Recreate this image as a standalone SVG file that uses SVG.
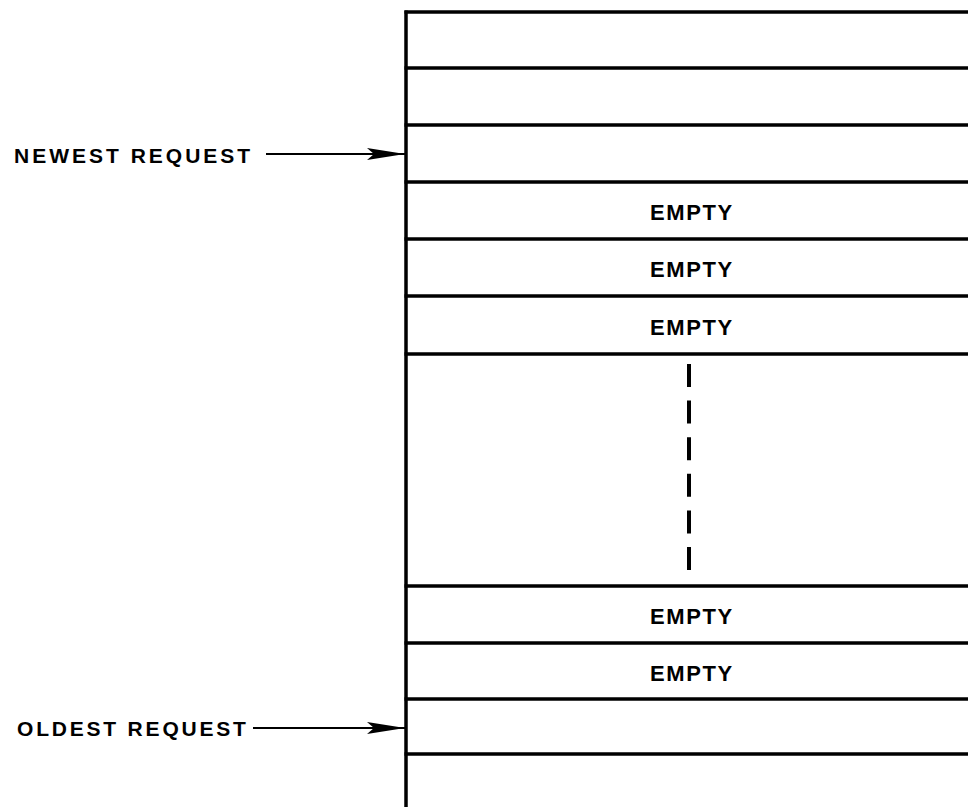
<svg xmlns="http://www.w3.org/2000/svg" width="968" height="807" viewBox="0 0 968 807">
<style>
.row{stroke:#000;stroke-width:3.5;fill:none}
.lbl{font-family:"Liberation Sans",Arial,sans-serif;font-weight:bold;fill:#000}
.empty{text-anchor:middle;font-size:22px;letter-spacing:1.6px}
.side{font-size:21px}
.conn{stroke:#000;stroke-width:2.2;fill:none}
</style>
<defs>
<marker id="ah" viewBox="0 0 38 12" refX="38" refY="6" markerWidth="38" markerHeight="12" markerUnits="userSpaceOnUse" orient="auto">
<path d="M0,0 L38,6 L0,12 L7,6 Z" fill="#000"/>
</marker>
</defs>
<rect width="968" height="807" fill="#fff"/>
<g id="queue">
<line class="row" x1="406" y1="10.5" x2="406" y2="807"/>
<line class="row" x1="404.5" y1="12" x2="968" y2="12"/>
<line class="row" x1="404.5" y1="68" x2="968" y2="68"/>
<line class="row" x1="404.5" y1="125" x2="968" y2="125"/>
<line class="row" x1="404.5" y1="182" x2="968" y2="182"/>
<line class="row" x1="404.5" y1="239" x2="968" y2="239"/>
<line class="row" x1="404.5" y1="296" x2="968" y2="296"/>
<line class="row" x1="404.5" y1="354" x2="968" y2="354"/>
<line class="row" x1="404.5" y1="586" x2="968" y2="586"/>
<line class="row" x1="404.5" y1="643" x2="968" y2="643"/>
<line class="row" x1="404.5" y1="699" x2="968" y2="699"/>
<line class="row" x1="404.5" y1="754" x2="968" y2="754"/>
</g>
<g id="slot-empty-1"><text class="lbl empty" x="692" y="220">EMPTY</text></g>
<g id="slot-empty-2"><text class="lbl empty" x="692" y="277">EMPTY</text></g>
<g id="slot-empty-3"><text class="lbl empty" x="692" y="335">EMPTY</text></g>
<g id="slot-empty-4"><text class="lbl empty" x="692" y="624">EMPTY</text></g>
<g id="slot-empty-5"><text class="lbl empty" x="692" y="681">EMPTY</text></g>
<g id="ellipsis"><line x1="689" y1="364" x2="689" y2="572" stroke="#000" stroke-width="4" stroke-dasharray="23 13.6"/></g>
<g id="newest"><text class="lbl side" x="14" y="163" letter-spacing="3">NEWEST REQUEST</text></g>
<g id="oldest"><text class="lbl side" x="17" y="736" letter-spacing="2.8">OLDEST REQUEST</text></g>
<g id="connectors">
<line class="conn" x1="266" y1="154" x2="405" y2="154" marker-end="url(#ah)"/>
<line class="conn" x1="253" y1="728" x2="405" y2="728" marker-end="url(#ah)"/>
</g>
</svg>
